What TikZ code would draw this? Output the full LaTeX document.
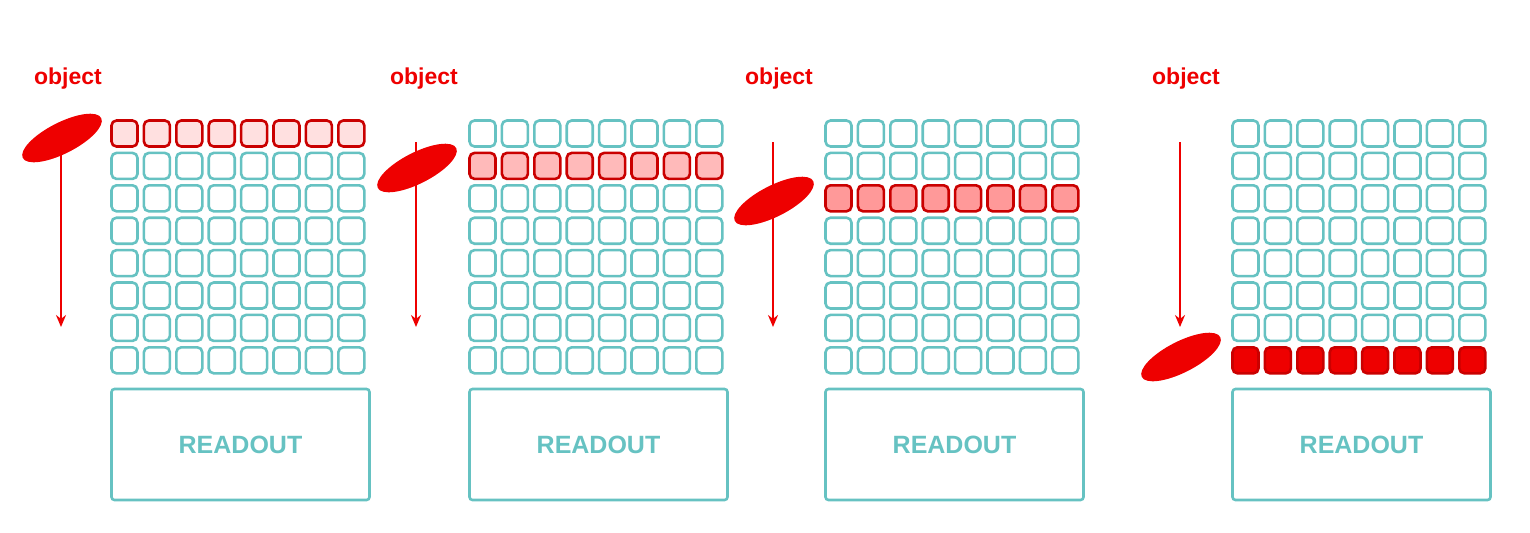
\documentclass[tikz,border=0pt]{standalone}
\usepackage{fontspec}
\setmainfont{Liberation Sans}
\usetikzlibrary{arrows.meta,shapes.geometric}
\definecolor{teal1}{HTML}{66C2C2}
\definecolor{red1}{HTML}{EE0000}
\begin{document}
\begin{tikzpicture}[x=0.5pt,y=-0.5pt,
  cell/.style={draw=teal1,line width=1.3pt,rounded corners=2.5pt,minimum width=13pt,minimum height=13pt,inner sep=0pt},
  hot/.style={draw=red1!85!black},
  readout/.style={draw=teal1,line width=1.3pt,rounded corners=1.5pt,minimum width=129pt,minimum height=55.5pt,font=\bfseries\fontsize{12.5}{14}\selectfont,text=teal1},
  obj/.style={text=red1,font=\bfseries\fontsize{11.5}{13}\selectfont},
  blob/.style={fill=red1,ellipse,minimum width=44pt,minimum height=15.5pt,inner sep=0pt},
  mv/.style={draw=red1,line width=1pt,-{Stealth[length=6pt,width=5pt]}}]
\useasboundingbox (0,0) rectangle (1530,532);
\foreach \p/\gx/\rx/\hr/\hf/\ox/\ex/\ey/\ay in {
  1/111/111/0/red!12/68/62/138/152,
  2/469/469/1/red!27/424/417/168/142,
  3/825/825/2/red!40/779/774/201/142,
  4/1232/1232/7/red1/1186/1181/357/142}{
  \foreach \r in {0,...,7}{
    \foreach \c in {0,...,7}{
      \ifnum\r=\hr
        \node[cell,hot,fill=\hf] (c\p-\r-\c) at ({\gx+13.5+\c*32.4},{133.5+\r*32.4}) {};
      \else
        \node[cell] (c\p-\r-\c) at ({\gx+13.5+\c*32.4},{133.5+\r*32.4}) {};
      \fi
    }
  }
  \node[readout] (ro\p) at ({\rx+129.5},444.5) {READOUT};
  \node[obj] (o\p) at (\ox,79) {object};
  \coordinate (s\p) at ({\ex-1},\ay);
  \coordinate (e\p) at ({\ex-1},327);
  \draw[mv] (s\p) -- (e\p);
  \node[blob,rotate=27] (b\p) at (\ex,\ey) {};
}
\end{tikzpicture}
\end{document}
